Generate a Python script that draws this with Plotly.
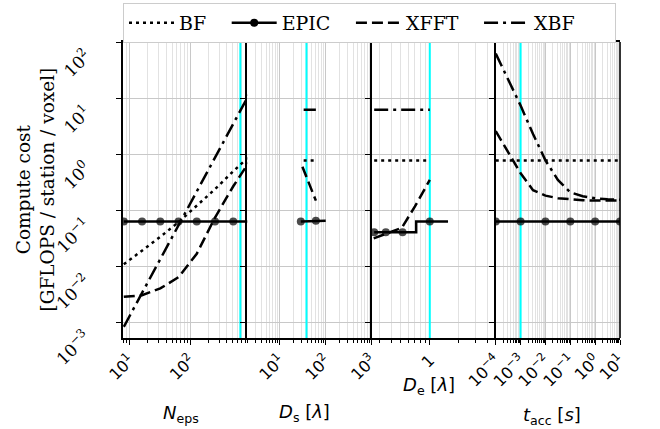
import math
import plotly.graph_objects as go
from plotly.subplots import make_subplots

# ---------------- data ----------------
series_names = ["BF", "EPIC", "XFFT", "XBF"]

# Panel 1: N_eps
neps = [8, 16, 32, 64, 128, 256, 512, 1024]
neps_bf = [0.011, 0.019, 0.034, 0.062, 0.12, 0.24, 0.5, 1.0]
neps_epic = [0.064, 0.064, 0.064, 0.064, 0.064, 0.064, 0.064, 0.064]
neps_xfft = [0.0029, 0.0031, 0.0041, 0.0065, 0.017, 0.075, 0.27, 0.85]
neps_xbf = [0.00085, 0.0034, 0.0137, 0.055, 0.22, 0.88, 3.5, 14.0]

# Panel 2: D_s
ds_bf_x = [33, 58]
ds_bf = [0.78, 0.78]
ds_epic_x = [28.6, 61, 100]
ds_epic = [0.064, 0.066, 0.066]
ds_epic_mark = [1, 1, 0]
ds_xfft_x = [31, 61]
ds_xfft = [0.6, 0.15]
ds_xbf_x = [33, 61]
ds_xbf = [6.2, 6.2]

# Panel 3: D_e
de_x = [0.263, 1.0]
de_bf = [0.78, 0.78]
de_xbf = [6.2, 6.2]
de_xfft_x = [0.26, 0.37, 0.51, 0.70, 1.0]
de_xfft = [0.032, 0.040, 0.049, 0.118, 0.35]
de_epic_x = [0.263, 0.348, 0.52, 1.0, 1.55]
de_epic = [0.041, 0.041, 0.041, 0.064, 0.064]
de_epic_mark = [1, 1, 1, 1, 0]

# Panel 4: t_acc
tacc = [1e-4, 3.16e-4, 1e-3, 3.16e-3, 1e-2, 3.16e-2, 0.1, 0.316, 1, 3.16, 10]
tacc_bf = [0.78] * 11
tacc_epic = [0.064] * 11
tacc_epic_mark = [1, 0, 1, 0, 1, 0, 1, 0, 1, 0, 1]
tacc_xfft = [2.6, 1.1, 0.46, 0.23, 0.184, 0.166, 0.158, 0.153, 0.15, 0.15, 0.15]
tacc_xbf = [62, 21, 7.4, 2.3, 0.78, 0.35, 0.21, 0.18, 0.165, 0.158, 0.156]

# vertical reference (cyan) markers, one per panel
cyan_marks = [670, 38, 1.0, 1e-3]

# axis settings
x_ranges = [[0.89, 2.94], [0.287, 3.0], [-0.608, 0.688], [-4, 1]]
x_tickvals = [[10, 100], [10, 100, 1000], [1], [1e-4, 1e-3, 1e-2, 1e-1, 1, 10]]
x_ticktext = [
    ["10<sup>1</sup>", "10<sup>2</sup>"],
    ["10<sup>1</sup>", "10<sup>2</sup>", "10<sup>3</sup>"],
    ["1"],
    ["10<sup>\u22124</sup>", "10<sup>\u22123</sup>", "10<sup>\u22122</sup>",
     "10<sup>\u22121</sup>", "10<sup>0</sup>", "10<sup>1</sup>"],
]
x_titles = [
    "<i>N</i><sub>eps</sub>",
    "<i>D</i><sub>s</sub> [<i>\u03bb</i>]",
    "<i>D</i><sub>e</sub> [<i>\u03bb</i>]",
    "<i>t</i><sub>acc</sub> [<i>s</i>]",
]
x_title_pos = [(0.47, -0.257), (0.46, -0.253), (0.46, -0.162), (0.45, -0.262)]
y_tickvals = [1e-3, 1e-2, 1e-1, 1, 10, 100]
y_ticktext = ["10<sup>\u22123</sup>", "10<sup>\u22122</sup>", "10<sup>\u22121</sup>",
              "10<sup>0</sup>", "10<sup>1</sup>", "10<sup>2</sup>"]
y_range = [-3.27, 2.0]
y_title = "Compute cost<br>[GFLOPS / station / voxel]"
legend_pad = ["\u2002\u00a0", "\u2002\u00a0", "\u2002\u00a0", "\u2002\u2002\u2002\u00a0"]

# ---------------- styles ----------------
LW = 2.5
styles = {
    "BF": dict(color="black", width=LW, dash="3px,4px"),
    "EPIC": dict(color="black", width=LW, dash="solid"),
    "XFFT": dict(color="black", width=LW, dash="11px,5px"),
    "XBF": dict(color="black", width=LW, dash="14px,5px,3px,5px"),
}
MS = 8

fig = make_subplots(rows=1, cols=4, shared_yaxes=True, horizontal_spacing=0)

# cyan reference lines (drawn first, beneath the data)
for i, v in enumerate(cyan_marks):
    fig.add_trace(go.Scatter(x=[v, v], y=[10 ** (y_range[0] - 1), 10 ** (y_range[1] + 1)],
                             mode="lines", line=dict(color="#00ffff", width=2),
                             showlegend=False, hoverinfo="skip"), row=1, col=i + 1)


def add_line(col, x, y, name, marks=None, shape="linear"):
    mode = "lines+markers" if marks is not None else "lines"
    kw = {}
    if marks is not None:
        kw["marker"] = dict(size=[MS if m else 0 for m in marks], color="black",
                            symbol="circle", line=dict(width=0))
    fig.add_trace(go.Scatter(x=x, y=y, mode=mode, name=name, line=dict(shape=shape, **styles[name]),
                             showlegend=False, **kw), row=1, col=col)


# legend-only traces
for nm, pad in zip(series_names, legend_pad):
    fig.add_trace(go.Scatter(x=[None], y=[None], mode="lines+markers" if nm == "EPIC" else "lines",
                             name=nm + pad, line=styles[nm],
                             marker=dict(size=MS, color="black"), showlegend=True), row=1, col=1)

# panel 1
add_line(1, neps, neps_bf, "BF")
add_line(1, neps, neps_epic, "EPIC", marks=[1] * len(neps))
add_line(1, neps, neps_xfft, "XFFT")
add_line(1, neps, neps_xbf, "XBF")
# panel 2
add_line(2, ds_bf_x, ds_bf, "BF")
add_line(2, ds_epic_x, ds_epic, "EPIC", marks=ds_epic_mark)
add_line(2, ds_xfft_x, ds_xfft, "XFFT")
add_line(2, ds_xbf_x, ds_xbf, "XBF")
# panel 3
add_line(3, de_x, de_bf, "BF")
add_line(3, de_epic_x, de_epic, "EPIC", marks=de_epic_mark, shape="hvh")
add_line(3, de_xfft_x, de_xfft, "XFFT")
add_line(3, de_x, de_xbf, "XBF")
# panel 4
add_line(4, tacc, tacc_bf, "BF")
add_line(4, tacc, tacc_epic, "EPIC", marks=tacc_epic_mark)
add_line(4, tacc, tacc_xfft, "XFFT")
add_line(4, tacc, tacc_xbf, "XBF")


def minor_vals(lo, hi):
    vals = []
    for e in range(int(lo) - 1, int(hi) + 2):
        for m in range(2, 10):
            vals.append(m * 10 ** e)
    return vals


domains = [[0, 0.25], [0.25, 0.5], [0.5, 0.75], [0.75, 1.0]]
for i in range(4):
    key = "xaxis" if i == 0 else f"xaxis{i+1}"
    fig.layout[key].update(
        type="log", range=x_ranges[i], domain=domains[i],
        tickmode="array", tickvals=x_tickvals[i], ticktext=x_ticktext[i],
        tickangle=-45, ticks="outside", ticklen=5, tickwidth=1.3, tickcolor="black",
        showline=True, linecolor="black", linewidth=1.6, mirror=True,
        showgrid=True, gridcolor="#c8c8c8", gridwidth=1,
        tickfont=dict(family="DejaVu Sans", size=16, color="black"),
        minor=dict(tickmode="array", tickvals=minor_vals(x_ranges[i][0], x_ranges[i][1]),
                   ticks="outside", ticklen=3, tickwidth=1, tickcolor="black",
                   showgrid=True, gridcolor="#e2e2e2", gridwidth=1),
        zeroline=False, automargin=False,
    )
    ykey = "yaxis" if i == 0 else f"yaxis{i+1}"
    fig.layout[ykey].update(
        type="log", range=y_range,
        tickmode="array", tickvals=y_tickvals,
        ticks="outside", ticklen=5, tickwidth=1.3, tickcolor="black",
        showline=True, linecolor="black", linewidth=1.6, mirror=False,
        showgrid=True, gridcolor="#c8c8c8", gridwidth=1,
        showticklabels=False, zeroline=False, automargin=False,
    )
    # x axis title
    ax = "x" if i == 0 else f"x{i+1}"
    fig.add_annotation(x=x_title_pos[i][0], xref=f"{ax} domain", y=x_title_pos[i][1], yref="paper",
                       text=x_titles[i], showarrow=False, xanchor="center", yanchor="middle",
                       font=dict(family="DejaVu Sans", size=18, color="black"))

# right frame edge of last panel
fig.add_shape(type="line", xref="x4 domain", yref="y4 domain", x0=1, x1=1, y0=0, y1=1,
              line=dict(color="black", width=1.6), layer="above")

# y tick labels (rotated, top-right corner at the tick)
for v, t in zip(y_tickvals, y_ticktext):
    fig.add_annotation(x=-0.052, xref="paper", y=math.log10(v), yref="y", text=t, showarrow=False,
                       textangle=-45, xanchor="right", yanchor="top",
                       font=dict(family="DejaVu Serif", size=17, color="black"))

# y axis title
fig.add_annotation(x=-0.178, xref="paper", y=0.5, yref="paper", text=y_title, showarrow=False,
                   textangle=-90, xanchor="center", yanchor="middle",
                   font=dict(family="DejaVu Serif", size=18.5, color="black"))

fig.update_layout(
    width=660, height=429,
    margin=dict(l=123, r=40, t=42, b=91, autoexpand=False),
    plot_bgcolor="white", paper_bgcolor="white",
    font=dict(family="DejaVu Sans", color="black"),
    showlegend=True,
    legend=dict(orientation="h", x=0, xanchor="left", y=1.132, yanchor="top",
                font=dict(family="DejaVu Serif", size=19, color="black"),
                itemwidth=45,
                bgcolor="white", bordercolor="#cccccc", borderwidth=1,
                traceorder="normal"),
)

fig.write_html("out.html")
